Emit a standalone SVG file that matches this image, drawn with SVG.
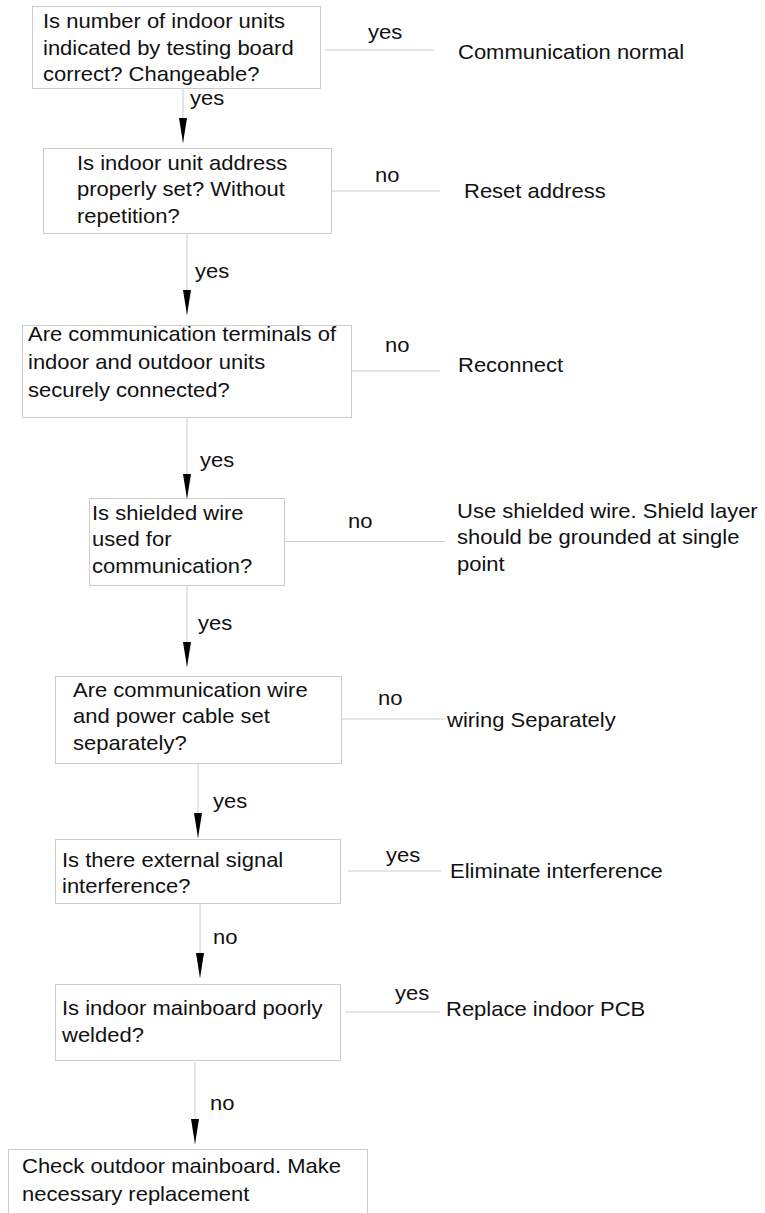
<svg xmlns="http://www.w3.org/2000/svg" width="765" height="1213" viewBox="0 0 765 1213">
<defs>
<style>
.box{fill:#fff;stroke:#cccccc;stroke-width:1}
.ln{stroke:#cccccc;stroke-width:1;fill:none}
.t{font-family:"Liberation Sans",Arial,sans-serif;font-size:20px;fill:#111}
</style>
<marker id="ah" viewBox="0 0 25 8" refX="25" refY="4" markerWidth="25" markerHeight="8" markerUnits="userSpaceOnUse" orient="auto">
<path d="M0,0 L25,4 L0,8 z" fill="#000"/>
</marker>
</defs>
<rect width="765" height="1213" fill="#fff"/>
<g id="connectors">
<line class="ln" x1="183" y1="88" x2="183" y2="143" marker-end="url(#ah)"/>
<line class="ln" x1="187" y1="233" x2="187" y2="315" marker-end="url(#ah)"/>
<line class="ln" x1="187" y1="418" x2="187" y2="499" marker-end="url(#ah)"/>
<line class="ln" x1="187" y1="586" x2="187" y2="667" marker-end="url(#ah)"/>
<line class="ln" x1="198" y1="764" x2="198" y2="838" marker-end="url(#ah)"/>
<line class="ln" x1="200" y1="900" x2="200" y2="978" marker-end="url(#ah)"/>
<line class="ln" x1="195" y1="1062" x2="195" y2="1144" marker-end="url(#ah)"/>
<line class="ln" x1="325" y1="50" x2="434" y2="50"/>
<line class="ln" x1="332" y1="191" x2="440" y2="191"/>
<line class="ln" x1="352" y1="371" x2="440" y2="371"/>
<line class="ln" x1="285" y1="541.5" x2="445" y2="541.5"/>
<line class="ln" x1="342" y1="719" x2="445" y2="719"/>
<line class="ln" x1="348" y1="871" x2="441" y2="871"/>
<line class="ln" x1="345" y1="1012" x2="440" y2="1012"/>
<text class="t" transform="translate(368,39) scale(1.1,1)">yes</text>
<text class="t" transform="translate(190,105) scale(1.1,1)">yes</text>
<text class="t" transform="translate(375,182) scale(1.1,1)">no</text>
<text class="t" transform="translate(195,278) scale(1.1,1)">yes</text>
<text class="t" transform="translate(385,352) scale(1.1,1)">no</text>
<text class="t" transform="translate(200,467) scale(1.1,1)">yes</text>
<text class="t" transform="translate(348,528) scale(1.1,1)">no</text>
<text class="t" transform="translate(198,630) scale(1.1,1)">yes</text>
<text class="t" transform="translate(378,705) scale(1.1,1)">no</text>
<text class="t" transform="translate(213,808) scale(1.1,1)">yes</text>
<text class="t" transform="translate(386,862) scale(1.1,1)">yes</text>
<text class="t" transform="translate(213,944) scale(1.1,1)">no</text>
<text class="t" transform="translate(395,1000) scale(1.1,1)">yes</text>
<text class="t" transform="translate(210,1110) scale(1.1,1)">no</text>
</g>
<g id="q1">
<rect class="box" x="32.5" y="6.5" width="288" height="82"/>
<text class="t" transform="translate(43,28) scale(1.1,1)"><tspan x="0" y="0">Is number of indoor units</tspan><tspan x="0" y="27">indicated by testing board</tspan><tspan x="0" y="53.5">correct? Changeable?</tspan></text>
</g>
<g id="r1"><text class="t" transform="translate(458,59) scale(1.1,1)">Communication normal</text></g>
<g id="q2">
<rect class="box" x="43.5" y="148.5" width="288" height="85"/>
<text class="t" transform="translate(77,170) scale(1.1,1)"><tspan x="0" y="0">Is indoor unit address</tspan><tspan x="0" y="26.5">properly set? Without</tspan><tspan x="0" y="53">repetition?</tspan></text>
</g>
<g id="r2"><text class="t" transform="translate(464,198) scale(1.1,1)">Reset address</text></g>
<g id="q3">
<rect class="box" x="22.5" y="325.5" width="329" height="92"/>
<text class="t" transform="translate(28,341) scale(1.1,1)"><tspan x="0" y="0">Are communication terminals of</tspan><tspan x="0" y="28">indoor and outdoor units</tspan><tspan x="0" y="56">securely connected?</tspan></text>
</g>
<g id="r3"><text class="t" transform="translate(458,372) scale(1.1,1)">Reconnect</text></g>
<g id="q4">
<rect class="box" x="89.5" y="498.5" width="195" height="87"/>
<text class="t" transform="translate(92,520) scale(1.1,1)"><tspan x="0" y="0">Is shielded wire</tspan><tspan x="0" y="26.5">used for</tspan><tspan x="0" y="53">communication?</tspan></text>
</g>
<g id="r4"><text class="t" transform="translate(457,518) scale(1.1,1)"><tspan x="0" y="0">Use shielded wire. Shield layer</tspan><tspan x="0" y="26.5">should be grounded at single</tspan><tspan x="0" y="53">point</tspan></text></g>
<g id="q5">
<rect class="box" x="55.5" y="676.5" width="286" height="87"/>
<text class="t" transform="translate(73,697) scale(1.1,1)"><tspan x="0" y="0">Are communication wire</tspan><tspan x="0" y="26.5">and power cable set</tspan><tspan x="0" y="53">separately?</tspan></text>
</g>
<g id="r5"><text class="t" transform="translate(447,727) scale(1.1,1)">wiring Separately</text></g>
<g id="q6">
<rect class="box" x="55.5" y="839.5" width="285" height="64"/>
<text class="t" transform="translate(62,867) scale(1.1,1)"><tspan x="0" y="0">Is there external signal</tspan><tspan x="0" y="26.5">interference?</tspan></text>
</g>
<g id="r6"><text class="t" transform="translate(450,878) scale(1.1,1)">Eliminate interference</text></g>
<g id="q7">
<rect class="box" x="55.5" y="984.5" width="285" height="76"/>
<text class="t" transform="translate(62,1015) scale(1.1,1)"><tspan x="0" y="0">Is indoor mainboard poorly</tspan><tspan x="0" y="27">welded?</tspan></text>
</g>
<g id="r7"><text class="t" transform="translate(446,1016) scale(1.1,1)">Replace indoor PCB</text></g>
<g id="end">
<rect class="box" x="8.5" y="1149.5" width="359" height="80"/>
<text class="t" transform="translate(22,1173) scale(1.1,1)"><tspan x="0" y="0">Check outdoor mainboard. Make</tspan><tspan x="0" y="28.5">necessary replacement</tspan></text>
</g>
</svg>
